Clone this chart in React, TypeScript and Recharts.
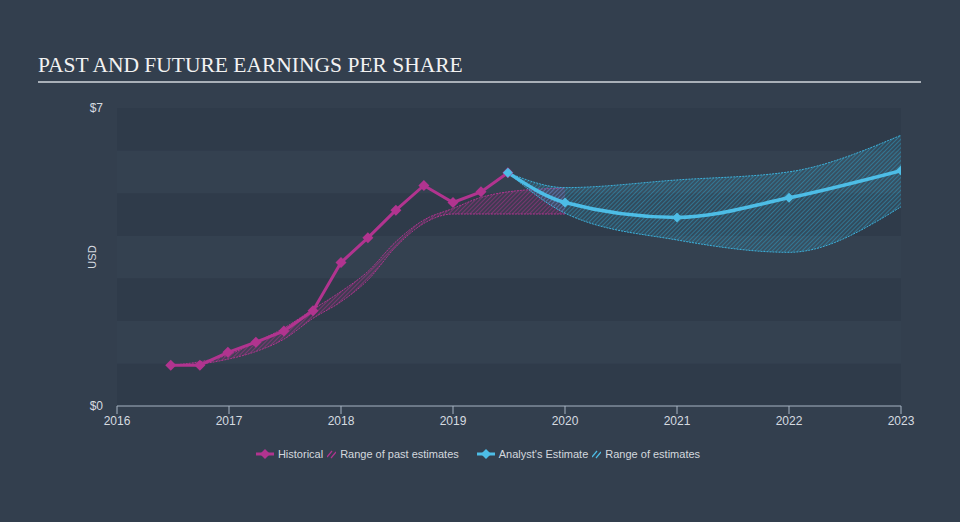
import React from "react";
import {
  ComposedChart,
  Line,
  Area,
  XAxis,
  YAxis,
  ReferenceArea,
} from "recharts";

// historical EPS (decimal year / value)
const histYears = [2016.48, 2016.74, 2016.99, 2017.24, 2017.49, 2017.75, 2018.0, 2018.24, 2018.49, 2018.74, 2019.0, 2019.25, 2019.49];
const histEps = [0.96, 0.96, 1.26, 1.5, 1.76, 2.24, 3.37, 3.95, 4.6, 5.18, 4.78, 5.03, 5.48];

// range of past estimates
const pastYears = [2016.48, 2016.74, 2016.99, 2017.24, 2017.49, 2017.75, 2018.0, 2018.24, 2018.49, 2018.74, 2019.0, 2019.25, 2019.49, 2020.0];
const pastLow = [0.96, 0.99, 1.1, 1.28, 1.57, 2.06, 2.45, 2.96, 3.74, 4.29, 4.51, 4.51, 4.51, 4.51];
const pastHigh = [0.96, 1.04, 1.2, 1.5, 1.83, 2.27, 2.69, 3.16, 3.86, 4.37, 4.64, 4.9, 5.03, 5.12];

// analyst estimates
const estYears = [2019.49, 2020.0, 2021.0, 2022.0, 2023.0];
const estEps = [5.48, 4.78, 4.43, 4.89, 5.53];
const estLow = [5.48, 4.53, 3.9, 3.61, 4.68];
const estHigh = [5.48, 5.13, 5.31, 5.5, 6.36];

const yearTicks = [2016, 2017, 2018, 2019, 2020, 2021, 2022, 2023];
const bands = [0, 1, 2, 3, 4, 5, 6];

const PINK = "#b1348f";
const BLUE = "#4dbde6";
const BG = "#333f4e";

const histData = histYears.map((t, i) => ({ t, eps: histEps[i] }));
const pastData = pastYears.map((t, i) => ({ t, range: [pastLow[i], pastHigh[i]] }));
const estData = estYears.map((t, i) => ({ t, eps: estEps[i] }));
const estRangeData = estYears.map((t, i) => ({ t, range: [estLow[i], estHigh[i]] }));

const Diamond = (r: number, color: string) => (props: any) => {
  const { cx, cy, index } = props;
  if (cx == null || cy == null) return <g key={index} />;
  return (
    <path
      key={index}
      d={`M${cx},${cy - r}L${cx + r},${cy}L${cx},${cy + r}L${cx - r},${cy}Z`}
      fill={color}
    />
  );
};

const LegendDiamond = ({ color }: { color: string }) => (
  <svg width={18} height={10} style={{ marginRight: 4 }}>
    <line x1={0} y1={5} x2={18} y2={5} stroke={color} strokeWidth={3} />
    <path d="M9,0L14,5L9,10L4,5Z" fill={color} />
  </svg>
);

const LegendHatch = ({ color }: { color: string }) => (
  <svg width={9} height={10} style={{ marginRight: 4 }}>
    <line x1={0} y1={8} x2={5} y2={2} stroke={color} strokeWidth={1.2} />
    <line x1={4} y1={9} x2={9} y2={3} stroke={color} strokeWidth={1.2} />
  </svg>
);

const legendText = { color: "#d3d8de", marginRight: 4 };

export default function App() {
  return (
    <div
      style={{
        position: "fixed",
        left: 0,
        top: 0,
        width: 960,
        height: 522,
        background: BG,
        fontFamily: "'Liberation Sans', Arial, sans-serif",
      }}
    >
      <div
        style={{
          position: "absolute",
          left: 38,
          top: 53,
          fontFamily: "'Liberation Serif', 'Times New Roman', serif",
          fontSize: 21.5,
          color: "#f2f2f2",
          whiteSpace: "nowrap",
        }}
      >
        PAST AND FUTURE EARNINGS PER SHARE
      </div>
      <div
        style={{
          position: "absolute",
          left: 38,
          top: 81,
          width: 883,
          height: 2,
          background: "#a9b0b8",
        }}
      />
      <div style={{ position: "absolute", left: 0, top: 0 }}>
        <ComposedChart
          width={960}
          height={522}
          margin={{ top: 108, right: 59, bottom: 86, left: 0 }}
        >
          <defs>
            <pattern id="hatchPink" patternUnits="userSpaceOnUse" width={3} height={3} patternTransform="rotate(45)">
              <rect width={3} height={3} fill="rgba(177,52,143,0.12)" />
              <line x1={0} y1={0} x2={0} y2={3} stroke={PINK} strokeWidth={1} />
            </pattern>
            <pattern id="hatchBlue" patternUnits="userSpaceOnUse" width={3} height={3} patternTransform="rotate(45)">
              <rect width={3} height={3} fill="rgba(77,189,230,0.12)" />
              <line x1={0} y1={0} x2={0} y2={3} stroke="#2f9fc6" strokeWidth={1} />
            </pattern>
          </defs>
          <XAxis
            type="number"
            dataKey="t"
            domain={[2016, 2023]}
            ticks={yearTicks}
            allowDataOverflow
            height={30}
            stroke="#a7b4c2"
            tickLine={{ stroke: "#a7b4c2" }}
            tickSize={8}
            tickMargin={2}
            tick={{ fill: "#d6dbe0", fontSize: 12 }}
          />
          <YAxis
            type="number"
            domain={[0, 7]}
            ticks={[0, 7]}
            width={117}
            axisLine={false}
            tickLine={false}
            tickMargin={8}
            tickFormatter={(v: number) => `$${v}`}
            tick={{ fill: "#d6dbe0", fontSize: 12 }}
            label={{
              content: ({ viewBox }: any) => {
                const x = viewBox.x + viewBox.width - 25;
                const y = viewBox.y + viewBox.height / 2;
                return (
                  <text
                    x={x}
                    y={y}
                    transform={`rotate(-90 ${x} ${y})`}
                    textAnchor="middle"
                    dominantBaseline="central"
                    fill="#d6dbe0"
                    fontSize={11}
                  >
                    USD
                  </text>
                );
              },
            }}
          />
          {bands.map((b) => (
            <ReferenceArea
              key={b}
              x1={2016}
              x2={2023}
              y1={b}
              y2={b + 1}
              fill={b % 2 === 0 ? "#2f3b4a" : "#344150"}
              fillOpacity={1}
              strokeWidth={0}
            />
          ))}
          <Area
            data={pastData}
            dataKey="range"
            type="monotone"
            stroke={PINK}
            strokeWidth={1}
            strokeDasharray="2 1"
            fill="url(#hatchPink)"
            fillOpacity={1}
            isAnimationActive={false}
          />
          <Area
            data={estRangeData}
            dataKey="range"
            type="monotone"
            stroke="#3cb0da"
            strokeWidth={1}
            strokeDasharray="2 1"
            fill="url(#hatchBlue)"
            fillOpacity={1}
            isAnimationActive={false}
          />
          <Line
            data={histData}
            dataKey="eps"
            type="linear"
            stroke={PINK}
            strokeWidth={3}
            dot={Diamond(5.5, PINK)}
            activeDot={false}
            isAnimationActive={false}
          />
          <Line
            data={estData}
            dataKey="eps"
            type="monotone"
            stroke={BLUE}
            strokeWidth={3.5}
            dot={Diamond(5, BLUE)}
            activeDot={false}
            isAnimationActive={false}
          />
        </ComposedChart>
      </div>
      <div
        style={{
          position: "absolute",
          left: 0,
          top: 448,
          width: 960,
          display: "flex",
          justifyContent: "center",
          alignItems: "center",
          fontSize: 11,
        }}
      >
        <LegendDiamond color={PINK} />
        <span style={legendText}>Historical</span>
        <LegendHatch color={PINK} />
        <span style={{ ...legendText, marginRight: 18 }}>Range of past estimates</span>
        <LegendDiamond color={BLUE} />
        <span style={legendText}>Analyst's Estimate</span>
        <LegendHatch color={BLUE} />
        <span style={legendText}>Range of estimates</span>
      </div>
    </div>
  );
}
